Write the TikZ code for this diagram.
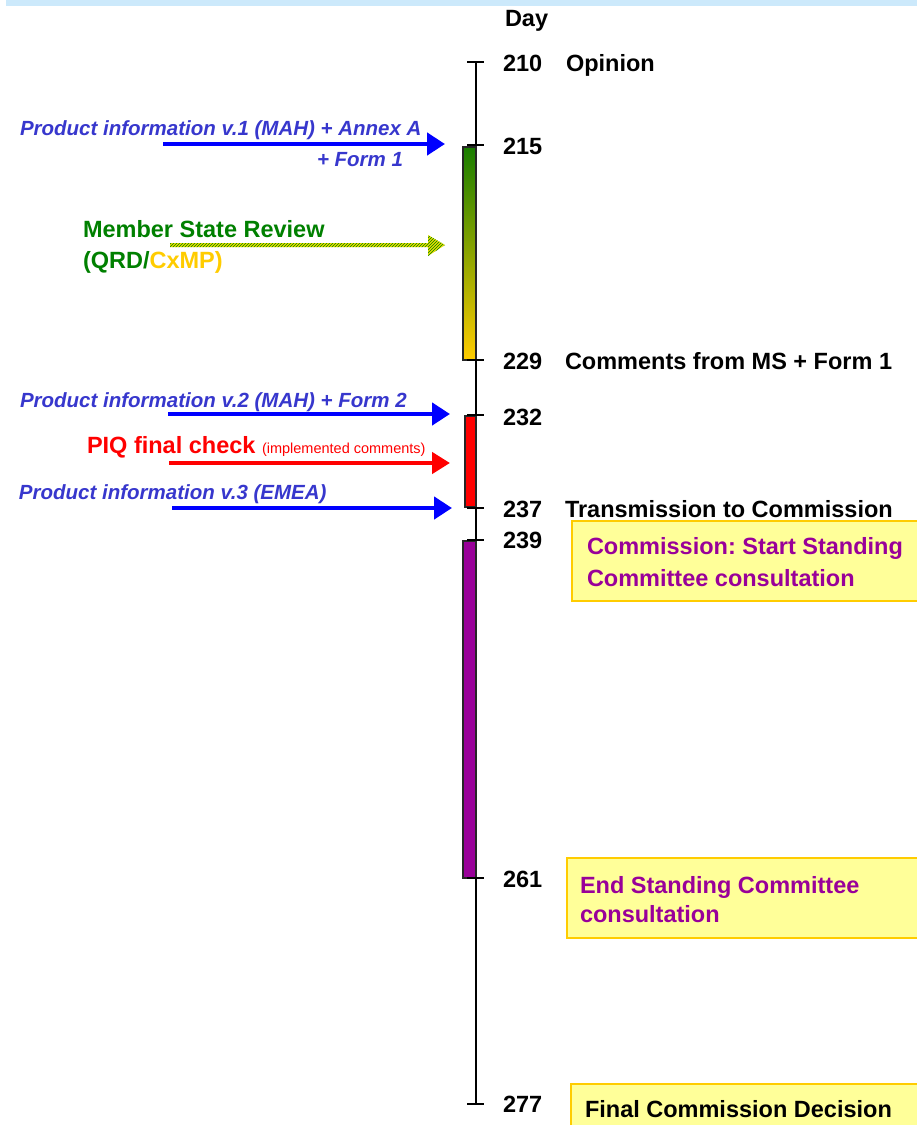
\documentclass[tikz,border=0pt]{standalone}
\usepackage{fontspec}
\setmainfont{Liberation Sans}
\usetikzlibrary{arrows.meta,patterns}
\definecolor{pblue}{RGB}{55,55,205}
\definecolor{ablue}{RGB}{0,0,255}
\definecolor{mgreen}{RGB}{0,128,0}
\definecolor{myellow}{RGB}{255,204,0}
\definecolor{mpurple}{RGB}{153,0,153}
\definecolor{boxfill}{RGB}{255,255,153}
\definecolor{band}{RGB}{204,233,251}
\definecolor{bargreen}{RGB}{25,125,0}
\definecolor{hatchy}{RGB}{235,220,0}
\frenchspacing
\begin{document}
\begin{tikzpicture}[x=1pt,y=-1pt,
  every node/.style={inner sep=0pt,outer sep=0pt},
  big/.style={font=\fontsize{23.5}{28}\selectfont\bfseries,anchor=base west},
  ital/.style={font=\fontsize{20.5}{24}\selectfont\bfseries\itshape,text=pblue,anchor=base west},
  small/.style={font=\fontsize{14.5}{17}\selectfont,text=red,anchor=base west},
  tickline/.style={line width=1.3pt},
  bar/.style={draw=black!85,line width=1.3pt},
  piarrow/.style={ablue,line width=4.5pt,-{Triangle[length=18pt,width=22pt]}},
  redarrow/.style={red,line width=4.5pt,-{Triangle[length=18pt,width=21pt]}},
  boxstyle/.style={draw=myellow,fill=boxfill,line width=1.5pt,anchor=north west,rectangle}
]
\clip (0,0) rectangle (917,1125);
\fill[white] (0,0) rectangle (917,1125);
% top band
\fill[band] (6,0) rectangle (917,6);

% timeline
\coordinate (t210) at (476,62);
\coordinate (t215) at (476,145);
\coordinate (t229) at (476,360);
\coordinate (t232) at (476,415);
\coordinate (t237) at (476,508);
\coordinate (t239) at (476,540);
\coordinate (t261) at (476,878);
\coordinate (t277) at (476,1104);
\draw[line width=1.5pt] (t210) -- (t277);

% bars
\shade[top color=bargreen,bottom color=myellow] (463,147) rectangle (476,360);
\draw[bar] (463,147) rectangle (476,360);
\fill[red] (465,416) rectangle (476,507);
\draw[bar] (465,416) rectangle (476,507);
\fill[mpurple] (463,541) rectangle (476,878);
\draw[bar] (463,541) rectangle (476,878);

% ticks
\foreach \t in {t210,t215,t229,t232,t237,t239,t261,t277}{
  \draw[tickline] ([xshift=-9pt]\t) -- ([xshift=8pt]\t);
}

% day labels
\node[big] (day) at (505,26) {Day};
\node[big] (n210) at (503,71) {210};
\node[big] (l210) at (566,71) {Opinion};
\node[big] (n215) at (503,154) {215};
\node[big] (n229) at (503,369) {229};
\node[big] (l229) at (565,369) {Comments from MS + Form 1};
\node[big] (n232) at (503,425) {232};
\node[big] (n237) at (503,517) {237};
\node[big] (l237) at (565,517) {Transmission to Commission};
\node[big] (n239) at (503,548) {239};
\node[big] (n261) at (503,887) {261};
\node[big] (n277) at (503,1112) {277};

% boxes
\node[boxstyle,minimum width=360pt,minimum height=80pt] (box1) at (572,521) {};
\node[big,text=mpurple] (b1a) at (587,554) {Commission: Start Standing};
\node[big,text=mpurple] (b1b) at (587,586) {Committee consultation};
\node[boxstyle,minimum width=360pt,minimum height=80pt] (box2) at (567,858) {};
\node[big,text=mpurple] (b2a) at (580,893) {End Standing Committee};
\node[big,text=mpurple] (b2b) at (580,922) {consultation};
\node[boxstyle,minimum width=360pt,minimum height=60pt] (box3) at (571,1084) {};
\node[big] (b3a) at (585,1117) {Final Commission Decision};

% arrow 1
\node[ital] (txt1) at (20,135) {Product information v.1 (MAH) + Annex A};
\node[ital] (txt1b) at (317,166) {+ Form 1};
\coordinate (a1s) at (163,144);
\coordinate (a1e) at (445,144);
\draw[piarrow] (a1s) -- (a1e);

% member state review (hatched arrow)
\node[big,text=mgreen] (msr) at (83,237) {Member State Review};
\node[big] (qrd) at (83,268) {\textcolor{mgreen}{(QRD/}\textcolor{myellow}{CxMP)}};
\coordinate (a2s) at (170,245);
\coordinate (a2e) at (445,245);
\path[fill=hatchy] (a2s) ++(0,-2) -- (428,243) -- (428,235) -- (a2e) -- (428,256) -- (428,247) -- (170,247) -- cycle;
\path[pattern=north east lines,pattern color=mgreen] (a2s) ++(0,-2) -- (428,243) -- (428,235) -- (a2e) -- (428,256) -- (428,247) -- (170,247) -- cycle;

% arrow 3
\node[ital] (txt3) at (20,407) {Product information v.2 (MAH) + Form 2};
\coordinate (a3s) at (168,414);
\coordinate (a3e) at (450,414);
\draw[piarrow] (a3s) -- (a3e);

% arrow 4 (red)
\node[big,text=red] (piq) at (87,453) {PIQ final check};
\node[small] (impl) at (262,453) {(implemented comments)};
\coordinate (a4s) at (169,463);
\coordinate (a4e) at (450,463);
\draw[redarrow] (a4s) -- (a4e);

% arrow 5
\node[ital] (txt5) at (19,499) {Product information v.3 (EMEA)};
\coordinate (a5s) at (172,508);
\coordinate (a5e) at (452,508);
\draw[piarrow] (a5s) -- (a5e);
\end{tikzpicture}
\end{document}
